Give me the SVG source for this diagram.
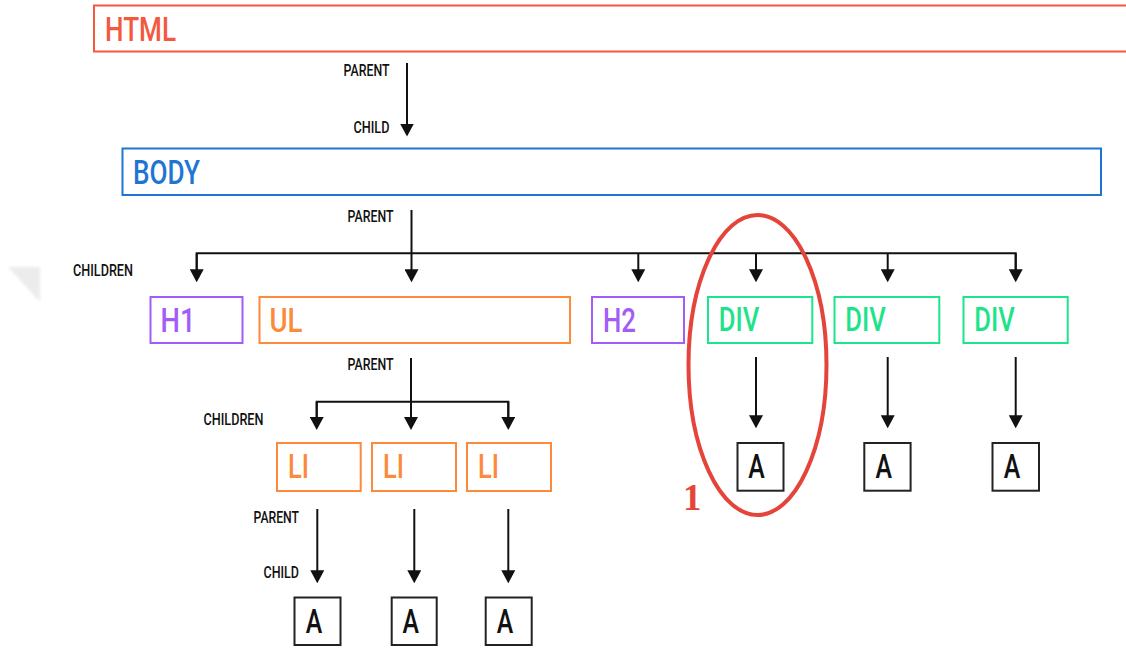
<svg xmlns="http://www.w3.org/2000/svg" width="1126" height="649" viewBox="0 0 1126 649">
  <style>
    .box { fill: #ffffff; stroke-width: 2; }
    .html { stroke: #f4583f; }
    .body { stroke: #1f76d2; }
    .head { stroke: #a35df7; }
    .list { stroke: #fb8a3c; }
    .div { stroke: #1fe38b; }
    .a { stroke: #222222; }
    .tag { font-family: Roboto, "Liberation Sans", sans-serif; font-weight: 500; font-size: 34px; }
    .t-html { fill: #f4583f; }
    .t-body { fill: #1f76d2; }
    .t-head { fill: #a35df7; }
    .t-list { fill: #fb8a3c; }
    .t-div { fill: #1fe38b; }
    .t-a { fill: #111111; }
    .lbl { font-family: Roboto, "Liberation Sans", sans-serif; font-weight: 500; font-size: 16.5px; fill: #111111; }
    .wire { fill: none; stroke: #111111; stroke-width: 2; }
    .arrow { marker-end: url(#tip); }
  </style>
  <defs>
    <marker id="tip" viewBox="0 0 13 14" refX="5" refY="7" markerWidth="13" markerHeight="14" markerUnits="userSpaceOnUse" orient="auto">
      <path d="M0,0 L13,7 L0,14 Z" fill="#111111"/>
    </marker>
    <filter id="soft" x="-50%" y="-50%" width="200%" height="200%">
      <feGaussianBlur stdDeviation="1.5"/>
    </filter>
  </defs>

  <rect width="1126" height="649" fill="#ffffff"/>
  <!-- faint page-fold corner at the left edge -->
  <polygon points="8,267 40,267 40,302" fill="#ececec" filter="url(#soft)"/>

  <!-- connectors -->
  <g id="connectors">
    <line class="wire arrow" x1="407" y1="63" x2="407" y2="128.5"/>

    <line class="wire" x1="411.5" y1="210" x2="411.5" y2="253.3"/>
    <path class="wire" d="M196.7,274 V253.3 H1015.7 V274"/>
    <line class="wire arrow" x1="196.7" y1="253.3" x2="196.7" y2="274.3"/>
    <line class="wire arrow" x1="411.5" y1="253.3" x2="411.5" y2="274.3"/>
    <line class="wire arrow" x1="638.3" y1="253.3" x2="638.3" y2="274.3"/>
    <line class="wire arrow" x1="756" y1="253.3" x2="756" y2="274.3"/>
    <line class="wire arrow" x1="887.7" y1="253.3" x2="887.7" y2="274.3"/>
    <line class="wire arrow" x1="1015.7" y1="253.3" x2="1015.7" y2="274.3"/>

    <line class="wire" x1="411" y1="358" x2="411" y2="401.7"/>
    <path class="wire" d="M316.7,422 V401.7 H508.3 V422"/>
    <line class="wire arrow" x1="316.7" y1="401.7" x2="316.7" y2="422"/>
    <line class="wire arrow" x1="411" y1="401.7" x2="411" y2="422"/>
    <line class="wire arrow" x1="508.3" y1="401.7" x2="508.3" y2="422"/>

    <line class="wire arrow" x1="317.3" y1="509" x2="317.3" y2="575.3"/>
    <line class="wire arrow" x1="414.3" y1="509" x2="414.3" y2="575.3"/>
    <line class="wire arrow" x1="508.3" y1="509" x2="508.3" y2="575.3"/>

    <line class="wire arrow" x1="756" y1="357" x2="756" y2="420.3"/>
    <line class="wire arrow" x1="887.7" y1="357" x2="887.7" y2="420.3"/>
    <line class="wire arrow" x1="1015.7" y1="357" x2="1015.7" y2="420.3"/>
  </g>

  <!-- relation labels -->
  <g id="labels">
    <text class="lbl" x="343.5" y="76" textLength="46" lengthAdjust="spacingAndGlyphs">PARENT</text>
    <text class="lbl" x="353.5" y="133" textLength="36" lengthAdjust="spacingAndGlyphs">CHILD</text>
    <text class="lbl" x="347.5" y="222" textLength="46" lengthAdjust="spacingAndGlyphs">PARENT</text>
    <text class="lbl" x="73" y="276" textLength="60" lengthAdjust="spacingAndGlyphs">CHILDREN</text>
    <text class="lbl" x="347.5" y="370" textLength="46" lengthAdjust="spacingAndGlyphs">PARENT</text>
    <text class="lbl" x="203.5" y="425" textLength="60" lengthAdjust="spacingAndGlyphs">CHILDREN</text>
    <text class="lbl" x="253.5" y="522.7" textLength="45.5" lengthAdjust="spacingAndGlyphs">PARENT</text>
    <text class="lbl" x="263.5" y="578.3" textLength="35.5" lengthAdjust="spacingAndGlyphs">CHILD</text>
  </g>

  <g id="node-html">
    <rect class="box html" x="94" y="5.5" width="1050" height="46"/>
    <text class="tag t-html" x="105" y="40.7" textLength="71" lengthAdjust="spacingAndGlyphs">HTML</text>
  </g>
  <g id="node-body">
    <rect class="box body" x="122.5" y="148.5" width="978.5" height="46.5"/>
    <text class="tag t-body" x="133" y="183.5" textLength="67" lengthAdjust="spacingAndGlyphs">BODY</text>
  </g>
  <g id="node-h1">
    <rect class="box head" x="150.5" y="297" width="92" height="46"/>
    <text class="tag t-head" x="160.5" y="331.5" textLength="35" lengthAdjust="spacingAndGlyphs">H1</text>
  </g>
  <g id="node-ul">
    <rect class="box list" x="259.5" y="297" width="310.5" height="46"/>
    <text class="tag t-list" x="269.5" y="331.5" textLength="33" lengthAdjust="spacingAndGlyphs">UL</text>
  </g>
  <g id="node-h2">
    <rect class="box head" x="592" y="297" width="92" height="46"/>
    <text class="tag t-head" x="603" y="331.5" textLength="33" lengthAdjust="spacingAndGlyphs">H2</text>
  </g>
  <g id="node-div1">
    <rect class="box div" x="708" y="297" width="104.3" height="46"/>
    <text class="tag t-div" x="718.7" y="331" textLength="40.5" lengthAdjust="spacingAndGlyphs">DIV</text>
  </g>
  <g id="node-div2">
    <rect class="box div" x="834.5" y="297" width="104.8" height="46"/>
    <text class="tag t-div" x="845.3" y="331" textLength="40.5" lengthAdjust="spacingAndGlyphs">DIV</text>
  </g>
  <g id="node-div3">
    <rect class="box div" x="963.5" y="297" width="104.2" height="46"/>
    <text class="tag t-div" x="974.3" y="331" textLength="40.5" lengthAdjust="spacingAndGlyphs">DIV</text>
  </g>
  <g id="node-li1">
    <rect class="box list" x="277" y="443" width="83.7" height="48"/>
    <text class="tag t-list" x="288" y="478.3" textLength="21" lengthAdjust="spacingAndGlyphs">LI</text>
  </g>
  <g id="node-li2">
    <rect class="box list" x="372" y="443" width="84" height="48"/>
    <text class="tag t-list" x="383" y="478.3" textLength="21" lengthAdjust="spacingAndGlyphs">LI</text>
  </g>
  <g id="node-li3">
    <rect class="box list" x="467" y="443" width="84" height="48"/>
    <text class="tag t-list" x="478" y="478.3" textLength="21" lengthAdjust="spacingAndGlyphs">LI</text>
  </g>
  <g id="node-a1">
    <rect class="box a" x="294.5" y="597.5" width="46" height="47.5"/>
    <text class="tag t-a" x="305.7" y="633.3" textLength="16.5" lengthAdjust="spacingAndGlyphs">A</text>
  </g>
  <g id="node-a2">
    <rect class="box a" x="391.7" y="597.5" width="45" height="47.5"/>
    <text class="tag t-a" x="402.5" y="633.3" textLength="16.5" lengthAdjust="spacingAndGlyphs">A</text>
  </g>
  <g id="node-a3">
    <rect class="box a" x="485.7" y="597.5" width="46" height="47.5"/>
    <text class="tag t-a" x="496.8" y="633.3" textLength="16.5" lengthAdjust="spacingAndGlyphs">A</text>
  </g>
  <g id="node-a4">
    <rect class="box a" x="737.5" y="443" width="46" height="47.7"/>
    <text class="tag t-a" x="748.3" y="478.3" textLength="16.5" lengthAdjust="spacingAndGlyphs">A</text>
  </g>
  <g id="node-a5">
    <rect class="box a" x="864.3" y="443" width="46.3" height="47.7"/>
    <text class="tag t-a" x="875.5" y="478.3" textLength="16.5" lengthAdjust="spacingAndGlyphs">A</text>
  </g>
  <g id="node-a6">
    <rect class="box a" x="992.5" y="443" width="46.5" height="47.7"/>
    <text class="tag t-a" x="1003.8" y="478.3" textLength="16.5" lengthAdjust="spacingAndGlyphs">A</text>
  </g>

  <!-- highlight around the first DIV branch -->
  <g id="highlight">
    <ellipse cx="757.5" cy="365" rx="69" ry="150" fill="none" stroke="#e5443a" stroke-width="4"/>
    <text x="683" y="510" font-family="'Liberation Serif', serif" font-size="37" font-weight="bold" fill="#e5443a">1</text>
  </g>
</svg>
